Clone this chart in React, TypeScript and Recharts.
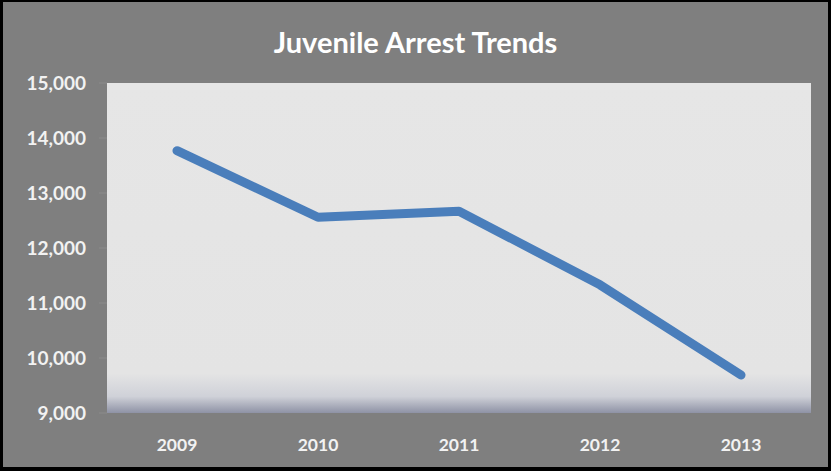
import { LineChart, Line, XAxis, YAxis, CartesianGrid } from 'recharts';

const years = ['2009', '2010', '2011', '2012', '2013'];
const arrests = [13770, 12560, 12670, 11330, 9690];
const yTicks = [9000, 10000, 11000, 12000, 13000, 14000, 15000];

const data = years.map((year, i) => ({ year, arrests: arrests[i] }));

const labelFont = 'Lato, "Open Sans", sans-serif';

export default function App() {
  return (
    <div
      style={{
        position: 'absolute',
        left: 0,
        top: 0,
        width: 831,
        height: 471,
        background: '#000',
      }}
    >
      <div
        style={{
          position: 'absolute',
          left: 3,
          top: 2,
          width: 825,
          height: 465,
          background: '#7f7f7f',
        }}
      >
        <div
          style={{
            position: 'absolute',
            top: 22,
            left: 0,
            width: 825,
            textAlign: 'center',
            color: '#ffffff',
            fontFamily: labelFont,
            fontWeight: 700,
            fontSize: 29,
            lineHeight: '36px',
          }}
        >
          Juvenile Arrest Trends
        </div>
        <LineChart
          width={825}
          height={465}
          data={data}
          margin={{ top: 81, right: 17, bottom: 24, left: 0 }}
        >
          <defs>
            <linearGradient id="plotBg" x1="0" y1="0" x2="0" y2="1">
              <stop offset="0" stopColor="#e6e6e6" />
              <stop offset="0.88" stopColor="#e4e4e4" />
              <stop offset="0.95" stopColor="#cfd1d8" />
              <stop offset="1" stopColor="#8e92a5" />
            </linearGradient>
          </defs>
          <CartesianGrid horizontal={false} vertical={false} fill="url(#plotBg)" />
          <XAxis
            dataKey="year"
            padding={{ left: 70, right: 70 }}
            axisLine={false}
            tickLine={false}
            tickMargin={20}
            tick={{ fill: '#f2f2f2', fontFamily: labelFont, fontWeight: 700, fontSize: 17.5 }}
          />
          <YAxis
            width={104}
            domain={[9000, 15000]}
            ticks={yTicks}
            interval={0}
            tickFormatter={(v: number) => v.toLocaleString('en-US')}
            axisLine={false}
            tickLine={{ stroke: '#8c8c8c' }}
            tickSize={8}
            tickMargin={13}
            tick={{ fill: '#f2f2f2', fontFamily: labelFont, fontWeight: 700, fontSize: 19 }}
          />
          <Line
            type="linear"
            dataKey="arrests"
            stroke="#4a7ebb"
            strokeWidth={9}
            strokeLinecap="round"
            strokeLinejoin="round"
            dot={false}
            activeDot={false}
            isAnimationActive={false}
          />
        </LineChart>
      </div>
    </div>
  );
}
